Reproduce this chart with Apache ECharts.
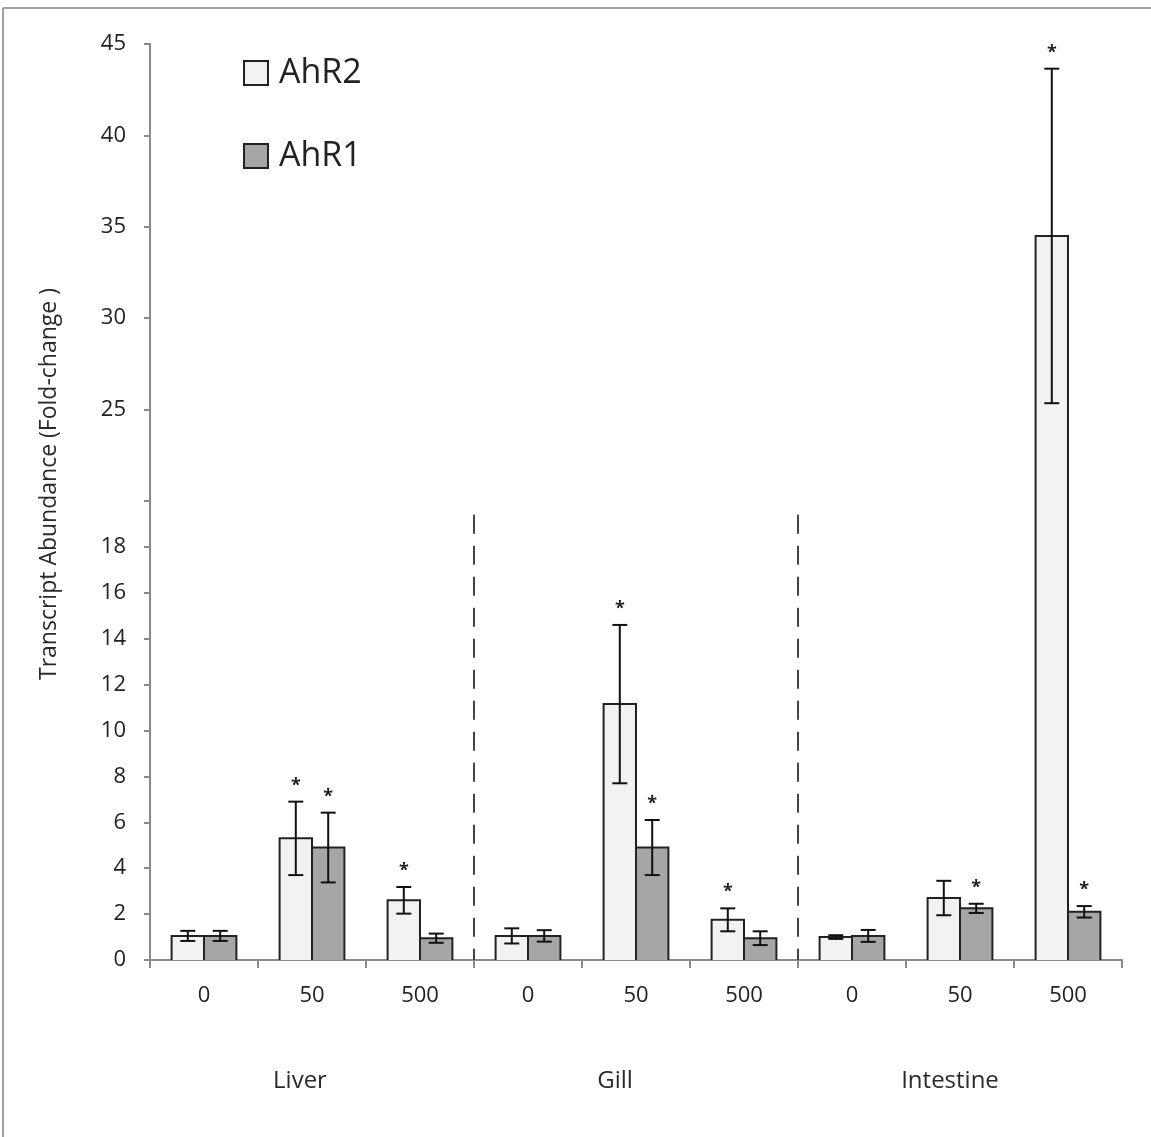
<!DOCTYPE html>
<html>
<head>
<meta charset="utf-8">
<title>AhR1 / AhR2 transcript abundance</title>
<script src="https://cdn.jsdelivr.net/npm/echarts@6/dist/echarts.min.js"></script>
<style>
  html, body { margin: 0; padding: 0; background: #ffffff; }
  #chart { width: 1151px; height: 1137px; }
</style>
</head>
<body>
<div id="chart"></div>
<script>
// Tissues and exposure doses (x groups)
const tissues = ['Liver', 'Gill', 'Intestine'];
const doses = ['0', '50', '500'];

// Fold-change means and error half-widths, ordered tissue by tissue, dose by dose
const ahr2Mean = [1.05, 5.3, 2.6, 1.05, 11.15, 1.75, 1.0, 2.7, 34.5];
const ahr2Err  = [0.22, 1.6, 0.58, 0.33, 3.45, 0.5, 0.08, 0.75, 9.15];
const ahr1Mean = [1.05, 4.9, 0.95, 1.05, 4.9, 0.95, 1.05, 2.25, 2.1];
const ahr1Err  = [0.22, 1.52, 0.2, 0.25, 1.2, 0.3, 0.26, 0.2, 0.25];

// Significance flags (1 = asterisk above the bar)
const ahr2Sig = [0, 1, 1, 0, 1, 1, 0, 0, 1];
const ahr1Sig = [0, 1, 0, 0, 1, 0, 0, 1, 1];

// Broken y axis: lower and upper segments
const lowerTicks = { min: 0, max: 20, interval: 2 };
const upperTicks = { min: 20, max: 45, interval: 5 };

// Dashed separators sit before these category indices
const dividers = [3, 6];

const FONT = "'Open Sans', 'Noto Sans', sans-serif";
const AXIS_COLOR = '#8a8a8a';
const EDGE = '#222222';
const FILL_AHR2 = '#f2f2f2';
const FILL_AHR1 = '#a6a6a6';
const BAR_FRAC = 0.3;

const categories = [];
tissues.forEach(t => doses.forEach(d => categories.push(t + '|' + d)));

function rows(mean, err, sig) {
  return mean.map((m, i) => [i, m, err[i], sig[i]]);
}

function barRenderer(side, fill) {
  return function (params, api) {
    const i = api.value(0);
    const v = api.value(1);
    const e = api.value(2);
    const sig = api.value(3);
    const band = api.size([1, 0])[0];
    const w = band * BAR_FRAC;
    const cx = api.coord([i, 0])[0];
    const x0 = side === 0 ? cx - w : cx;
    const xm = x0 + w / 2;
    const yBase = api.coord([i, 0])[1];
    const yTop = api.coord([i, v])[1];
    const yHi = api.coord([i, v + e])[1];
    const yLo = api.coord([i, v - e])[1];
    const cap = 7.5;
    const lineStyle = { stroke: '#111111', lineWidth: 2 };
    const children = [
      { type: 'rect', shape: { x: x0, y: yTop, width: w, height: yBase - yTop },
        style: { fill: fill, stroke: null } },
      { type: 'polyline', shape: { points: [[x0, yBase], [x0, yTop], [x0 + w, yTop], [x0 + w, yBase]] },
        style: { fill: null, stroke: EDGE, lineWidth: 2 } },
      { type: 'line', shape: { x1: xm, y1: yHi, x2: xm, y2: yLo }, style: lineStyle },
      { type: 'line', shape: { x1: xm - cap, y1: yHi, x2: xm + cap, y2: yHi }, style: lineStyle },
      { type: 'line', shape: { x1: xm - cap, y1: yLo, x2: xm + cap, y2: yLo }, style: lineStyle }
    ];
    if (sig) {
      children.push({
        type: 'text', x: xm, y: yHi - 16,
        style: { text: '*', fontSize: 18, fontWeight: 'bold', fontFamily: FONT,
                 fill: '#222222', align: 'center', verticalAlign: 'middle' }
      });
    }
    return { type: 'group', children: children };
  };
}

function dividerRenderer(params, api) {
  const d = api.value(0);
  const band = api.size([1, 0])[0];
  const x = api.coord([d, 0])[0] - band / 2;
  const y1 = api.coord([d, 19.4])[1];
  const y2 = api.coord([d, 0])[1];
  return {
    type: 'line',
    shape: { x1: x, y1: y1, x2: x, y2: y2 },
    style: { stroke: '#444444', lineWidth: 2, lineDash: [19, 12] }
  };
}

function barSeries(name, grid, side, fill, mean, err, sig) {
  return {
    name: name,
    type: 'custom',
    xAxisIndex: grid,
    yAxisIndex: grid,
    clip: true,
    renderItem: barRenderer(side, fill),
    itemStyle: { color: fill, borderColor: EDGE, borderWidth: 2 },
    data: rows(mean, err, sig),
    silent: true,
    z: 3
  };
}

const chart = echarts.init(document.getElementById('chart'), null, { renderer: 'canvas' });

const yLabel = (hidden) => ({
  fontSize: 22, color: '#222222', fontFamily: FONT, margin: 24,
  formatter: v => (v === hidden ? '' : String(v))
});

const option = {
  backgroundColor: '#ffffff',
  animation: false,
  textStyle: { fontFamily: FONT },
  grid: [
    { left: 150, right: 29, top: 501, bottom: 177 },
    { left: 150, right: 29, top: 44, bottom: 636 }
  ],
  xAxis: [
    {
      type: 'category', gridIndex: 0, data: categories, boundaryGap: true,
      axisLine: { lineStyle: { color: AXIS_COLOR, width: 2 } },
      axisTick: { show: true, interval: 0, length: 8, lineStyle: { color: AXIS_COLOR, width: 2 } },
      axisLabel: { interval: 0, fontSize: 22, color: '#222222', fontFamily: FONT, margin: 25,
                   formatter: v => v.split('|')[1] },
      splitLine: { show: false }
    },
    {
      type: 'category', gridIndex: 1, data: categories, boundaryGap: true, show: false
    }
  ],
  yAxis: [
    {
      type: 'value', gridIndex: 0, min: lowerTicks.min, max: lowerTicks.max, interval: lowerTicks.interval,
      axisLine: { show: true, lineStyle: { color: AXIS_COLOR, width: 2 } },
      axisTick: { show: true, length: 6, lineStyle: { color: AXIS_COLOR, width: 2 } },
      axisLabel: yLabel(lowerTicks.max),
      splitLine: { show: false }
    },
    {
      type: 'value', gridIndex: 1, min: upperTicks.min, max: upperTicks.max, interval: upperTicks.interval,
      axisLine: { show: true, lineStyle: { color: AXIS_COLOR, width: 2 } },
      axisTick: { show: true, length: 6, lineStyle: { color: AXIS_COLOR, width: 2 } },
      axisLabel: yLabel(upperTicks.min),
      splitLine: { show: false }
    }
  ],
  legend: {
    left: 243, top: 56, orient: 'vertical', padding: 0,
    itemWidth: 24, itemHeight: 24, itemGap: 49,
    selectedMode: false,
    textStyle: { fontSize: 34, color: '#222222', fontFamily: FONT, padding: [0, 0, 0, 6] },
    data: [
      { name: 'AhR2', icon: 'rect', itemStyle: { color: FILL_AHR2, borderColor: EDGE, borderWidth: 2 } },
      { name: 'AhR1', icon: 'rect', itemStyle: { color: FILL_AHR1, borderColor: EDGE, borderWidth: 2 } }
    ]
  },
  graphic: [
    { type: 'line', shape: { x1: 3, y1: 8, x2: 1151, y2: 8 }, style: { stroke: '#a0a0a0', lineWidth: 2 } },
    { type: 'line', shape: { x1: 3, y1: 8, x2: 3, y2: 1137 }, style: { stroke: '#a0a0a0', lineWidth: 2 } },
    { type: 'text', x: 49, y: 484, rotation: Math.PI / 2,
      style: { text: 'Transcript Abundance (Fold-change )', fontSize: 23, fill: '#2a2a2a',
               fontFamily: FONT, align: 'center', verticalAlign: 'middle' } },
    { type: 'text', x: 300, y: 1081,
      style: { text: tissues[0], fontSize: 24, fill: '#2a2a2a', fontFamily: FONT, align: 'center', verticalAlign: 'middle' } },
    { type: 'text', x: 615, y: 1081,
      style: { text: tissues[1], fontSize: 24, fill: '#2a2a2a', fontFamily: FONT, align: 'center', verticalAlign: 'middle' } },
    { type: 'text', x: 950, y: 1081,
      style: { text: tissues[2], fontSize: 24, fill: '#2a2a2a', fontFamily: FONT, align: 'center', verticalAlign: 'middle' } }
  ],
  series: [
    {
      name: 'divider', type: 'custom', xAxisIndex: 0, yAxisIndex: 0,
      renderItem: dividerRenderer, data: dividers.map(d => [d]), silent: true, z: 1
    },
    barSeries('AhR2', 0, 0, FILL_AHR2, ahr2Mean, ahr2Err, ahr2Sig),
    barSeries('AhR1', 0, 1, FILL_AHR1, ahr1Mean, ahr1Err, ahr1Sig),
    barSeries('AhR2', 1, 0, FILL_AHR2, ahr2Mean, ahr2Err, ahr2Sig),
    barSeries('AhR1', 1, 1, FILL_AHR1, ahr1Mean, ahr1Err, ahr1Sig)
  ]
};

chart.setOption(option);
</script>
</body>
</html>
